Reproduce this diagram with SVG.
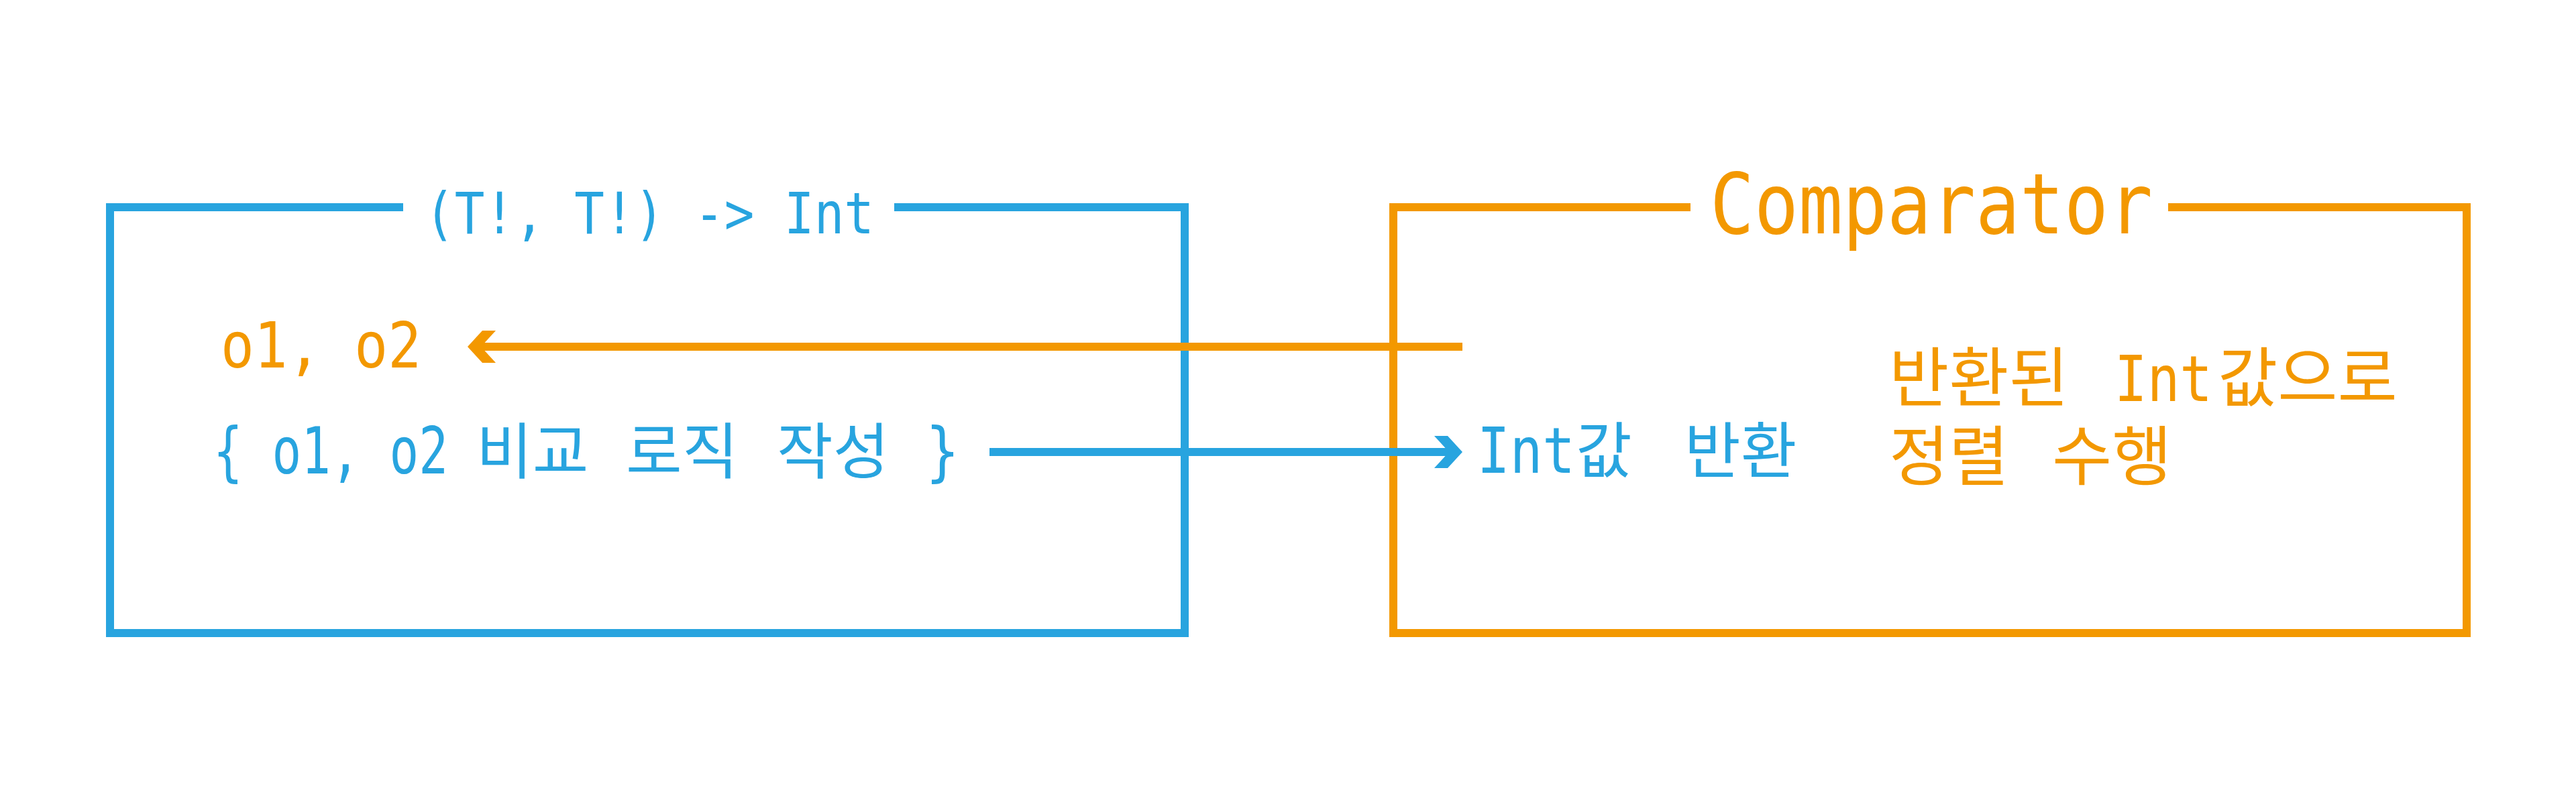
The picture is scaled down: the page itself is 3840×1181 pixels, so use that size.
<svg xmlns="http://www.w3.org/2000/svg" width="3840" height="1181" viewBox="0 0 3840 1181">
<style>
.box{fill:none;stroke-width:12;stroke-linejoin:miter;stroke-linecap:butt}
.b{stroke:#28A4DF}
.o{stroke:#F39800}
.tb{fill:#28A4DF}
.to{fill:#F39800}
.mono{font-family:"DejaVu Sans Mono","Noto Sans CJK KR",monospace}
.kr{font-family:"Noto Sans CJK KR","Noto Sans",sans-serif;font-size:91px}
.kr2{font-family:"Noto Sans CJK KR","Noto Sans",sans-serif;font-size:97px}
.conn{fill:none;stroke-width:12}
</style>
<defs>
<marker id="headB" viewBox="0 0 42 48" refX="22" refY="24" markerWidth="42" markerHeight="48" markerUnits="userSpaceOnUse" orient="auto">
<path d="M0,0 H20 L42,24 L20,48 H0 L22,24 Z" fill="#28A4DF"/>
</marker>
<marker id="headO" viewBox="0 0 42 48" refX="22" refY="24" markerWidth="42" markerHeight="48" markerUnits="userSpaceOnUse" orient="auto">
<path d="M0,0 H20 L42,24 L20,48 H0 L22,24 Z" fill="#F39800"/>
</marker>
</defs>
<rect width="3840" height="1181" fill="#FFFFFF"/>
<g id="lambda-box">
<path class="box b" d="M601,309 H164 V944 H1766 V309 H1333"/>
<text class="mono tb" x="968" y="348" font-size="86" text-anchor="middle" textLength="670" lengthAdjust="spacingAndGlyphs">(T!, T!) -&gt; Int</text>
<text class="to" y="548"><tspan class="mono" x="329" font-size="94" textLength="299" lengthAdjust="spacingAndGlyphs">o1, o2</tspan></text>
<text class="tb" y="706"><tspan class="mono" x="318" font-size="96" textLength="350" lengthAdjust="spacingAndGlyphs">{ o1, o2</tspan> <tspan class="kr" x="710">비교</tspan> <tspan class="kr" x="933">로직</tspan> <tspan class="kr" x="1158">작성</tspan> <tspan class="mono" x="1380" font-size="96" textLength="50" lengthAdjust="spacingAndGlyphs">}</tspan></text>
</g>
<g id="comparator-box">
<path class="box o" d="M2520,309 H2077 V944 H3677 V309 H3232"/>
<text class="mono to" x="2879" y="348" font-size="125" text-anchor="middle" textLength="660" lengthAdjust="spacingAndGlyphs">Comparator</text>
<text class="to" y="598"><tspan class="kr2" x="2816">반환된</tspan> <tspan class="mono" x="3152" font-size="94" textLength="146" lengthAdjust="spacingAndGlyphs">Int</tspan><tspan class="kr2" x="3306">값으로</tspan></text>
<text class="to" y="715"><tspan class="kr2" x="2816">정렬</tspan> <tspan class="kr2" x="3059">수행</tspan></text>
</g>
<g id="return-label">
<text class="tb" y="705"><tspan class="mono" x="2202" font-size="94" textLength="146" lengthAdjust="spacingAndGlyphs">Int</tspan><tspan class="kr" x="2349">값</tspan> <tspan class="kr" x="2511">반환</tspan></text>
</g>
<g id="connectors">
<path class="conn o" d="M2180,517 H717" marker-end="url(#headO)"/>
<path class="conn b" d="M1475,674 H2160" marker-end="url(#headB)"/>
</g>
</svg>
